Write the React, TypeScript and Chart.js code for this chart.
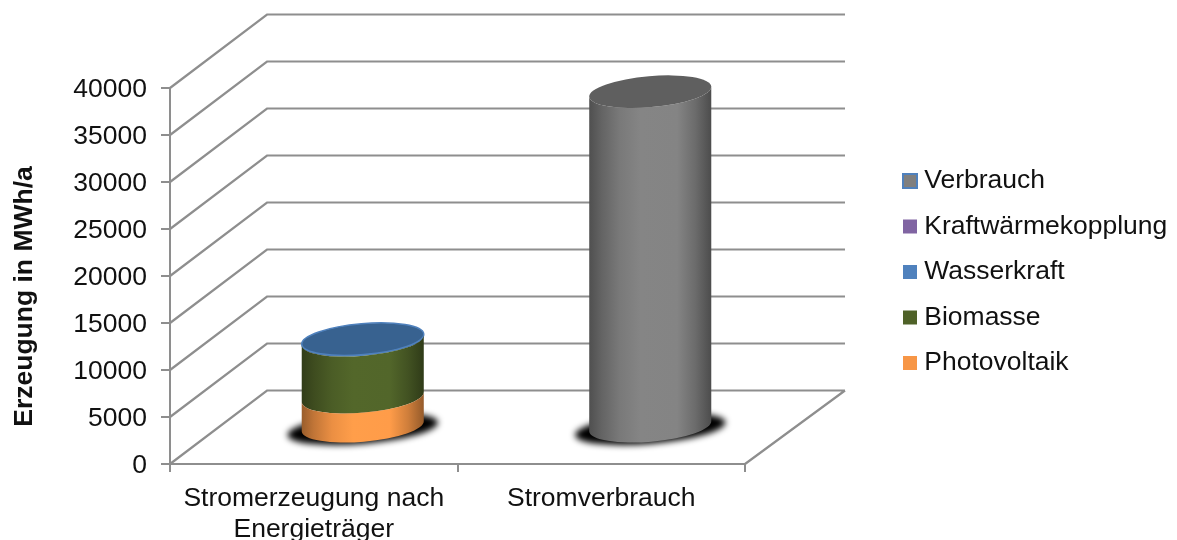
import React, { useEffect, useRef } from "react";
import { Chart, BarController, BarElement, registerables } from "chart.js";

const CATEGORIES: (string | string[])[] = [["Stromerzeugung nach", "Energieträger"], "Stromverbrauch"];
const PHOTOVOLTAIK = [3200, null];
const BIOMASSE = [6050, null];
const WASSERKRAFT = [120, null];
const KRAFTWAERME = [0, null];
const VERBRAUCH = [null, 35700];
const AXIS_TITLE = "Erzeugung in MWh/a";
const FONT_FAMILY = "'Liberation Sans', Arial, sans-serif";
const FONT_SIZE = 26.5;
const TEXT_COLOR = "#111111";
const GRID_COLOR = "#8e8e8e";

// Oblique projection of the floor: how far the back wall sits from the front plane.
const DEPTH_X = 98;
const DEPTH_Y = -73.5;
const WALL_RIGHT = 845;
const CAP_RY = 15.5;
const TILT = -0.085;

// Horizontal brightness profile that makes a flat fill read as a round surface.
const SHADE_STOPS: [number, number][] = [
  [0, 0.62],
  [0.1, 0.78],
  [0.25, 0.95],
  [0.42, 1.05],
  [0.72, 1.04],
  [0.87, 0.84],
  [1, 0.6],
];

function shade(hex: string, f: number) {
  const n = parseInt(hex.slice(1), 16);
  const c = [(n >> 16) & 255, (n >> 8) & 255, n & 255].map((v) => Math.min(255, Math.round(v * f)));
  return `rgb(${c[0]},${c[1]},${c[2]})`;
}

class CylinderElement extends BarElement {
  static id = "cylinderBar";

  draw(ctx: CanvasRenderingContext2D) {
    const self = this as any;
    const { x, y, base, width, column } = self;
    if (Math.abs(base - y) < 0.5) return;
    const { dataset, isTop } = column;
    const cx = x + DEPTH_X / 2;
    const topY = y + DEPTH_Y / 2;
    const baseY = base + DEPTH_Y / 2;
    const rx = width / 2;
    const color: string = dataset.backgroundColor;

    const gradient = ctx.createLinearGradient(cx - rx, 0, cx + rx, 0);
    SHADE_STOPS.forEach(([at, f]) => gradient.addColorStop(at, shade(color, f)));

    ctx.save();
    // Side wall: front half of the lower rim, then back along the front half of the upper rim.
    ctx.beginPath();
    ctx.ellipse(cx, baseY, rx, CAP_RY, TILT, 0, Math.PI);
    ctx.ellipse(cx, topY, rx, CAP_RY, TILT, Math.PI, 0, true);
    ctx.closePath();
    ctx.fillStyle = gradient;
    ctx.fill();

    if (isTop) {
      ctx.beginPath();
      ctx.ellipse(cx, topY, rx, CAP_RY, TILT, 0, Math.PI * 2);
      ctx.fillStyle = dataset.capColor;
      ctx.fill();
      if (dataset.capStroke) {
        ctx.strokeStyle = dataset.capStroke;
        ctx.lineWidth = 1.5;
        ctx.stroke();
      }
    }
    ctx.restore();
  }
}

class CylinderController extends BarController {
  static id = "cylinder";
  static defaults = { dataElementType: "cylinderBar" };

  draw() {
    const self = this as any;
    const dataset = self.getDataset();
    const all = self.chart.data.datasets;
    // Only the uppermost non-empty segment of a stack shows its cap.
    self._cachedMeta.data.forEach((el: any, i: number) => {
      el.column = { dataset, isTop: all.slice(self.index + 1).every((d: any) => !d.data[i]) };
    });
    super.draw();
  }
}

// Back wall, side wall and floor outlines.
const wallsPlugin = {
  id: "walls",
  beforeDatasetsDraw(chart: any) {
    const { ctx, scales } = chart;
    const y = scales.y;
    const x = scales.x;
    const left = x.left;
    ctx.save();
    ctx.strokeStyle = GRID_COLOR;
    ctx.lineWidth = 2.2;
    ctx.beginPath();
    y.ticks.forEach((t: any) => {
      const py = y.getPixelForValue(t.value);
      ctx.moveTo(left, py);
      ctx.lineTo(left + 97, py + DEPTH_Y);
      ctx.lineTo(WALL_RIGHT, py + DEPTH_Y);
    });
    const floor = y.getPixelForValue(0);
    ctx.moveTo(x.right, floor);
    ctx.lineTo(WALL_RIGHT, floor + DEPTH_Y);
    ctx.stroke();
    ctx.restore();
  },
};

// Soft contact shadow under each column on the floor.
const shadowPlugin = {
  id: "floorShadow",
  beforeDatasetsDraw(chart: any) {
    const { ctx, scales } = chart;
    const floor = scales.y.getPixelForValue(0);
    ctx.save();
    ctx.filter = "blur(3px)";
    ctx.fillStyle = "#000000";
    CATEGORIES.forEach((_, i) => {
      ctx.beginPath();
      ctx.ellipse(scales.x.getPixelForValue(i) + DEPTH_X / 2, floor + DEPTH_Y / 2 + 1.5, 75.5, 15, TILT, 0, Math.PI * 2);
      ctx.fill();
    });
    ctx.restore();
  },
};

const axisTitlePlugin = {
  id: "axisTitle",
  afterDraw(chart: any) {
    const { ctx } = chart;
    ctx.save();
    ctx.translate(25, 296.5);
    ctx.rotate(-Math.PI / 2);
    ctx.font = `bold ${FONT_SIZE}px ${FONT_FAMILY}`;
    ctx.fillStyle = TEXT_COLOR;
    ctx.textAlign = "center";
    ctx.textBaseline = "middle";
    ctx.fillText(AXIS_TITLE, 0, 0);
    ctx.restore();
  },
};

// The legend is centred on the whole canvas, not on the space below the top padding.
const legendCentrePlugin = {
  id: "legendCentre",
  afterLayout(chart: any) {
    chart.legend.top = 4;
    chart.legend.bottom = chart.height;
    chart.legend.height = chart.height - 4;
  },
};

Chart.register(...registerables, CylinderElement as any, CylinderController as any);

export default function App() {
  const ref = useRef<HTMLCanvasElement>(null);

  useEffect(() => {
    const font = { family: FONT_FAMILY, size: FONT_SIZE, lineHeight: 1.17 };
    const chart = new Chart(ref.current as HTMLCanvasElement, {
      type: "cylinder" as any,
      plugins: [legendCentrePlugin, wallsPlugin, shadowPlugin, axisTitlePlugin],
      data: {
        labels: CATEGORIES as any,
        datasets: [
          { label: "Photovoltaik", data: PHOTOVOLTAIK, backgroundColor: "#f79646", borderWidth: 0, capColor: "#f79646" },
          { label: "Biomasse", data: BIOMASSE, backgroundColor: "#4f6228", borderWidth: 0, capColor: "#3f4f20" },
          { label: "Wasserkraft", data: WASSERKRAFT, backgroundColor: "#4f81bd", borderWidth: 0, capColor: "#386290", capStroke: "#4f81bd" },
          { label: "Kraftwärmekopplung", data: KRAFTWAERME, backgroundColor: "#8064a2", borderWidth: 0, capColor: "#8064a2" },
          { label: "Verbrauch", data: VERBRAUCH, backgroundColor: "#7f7f7f", borderColor: "#4f81bd", borderWidth: 2, capColor: "#5f5f5f" },
        ] as any,
      },
      options: {
        responsive: false,
        animation: false,
        devicePixelRatio: 1,
        datasets: { cylinder: { barPercentage: 0.426, categoryPercentage: 1, clip: false } } as any,
        layout: { autoPadding: false, padding: { top: 88, left: 0, right: 0, bottom: 0 } },
        plugins: {
          tooltip: { enabled: false },
          legend: {
            position: "right",
            reverse: true,
            maxWidth: 287,
            labels: {
              font,
              color: TEXT_COLOR,
              usePointStyle: true,
              pointStyle: "rect",
              boxWidth: 2,
              boxHeight: 14,
              padding: 19,
            },
          },
        },
        scales: {
          x: {
            stacked: true,
            afterFit: (s: any) => {
              s.height = 76;
            },
            grid: { drawOnChartArea: false, tickLength: 8, color: GRID_COLOR, lineWidth: 2, offset: true },
            border: { color: GRID_COLOR, width: 2 },
            ticks: { font, color: TEXT_COLOR, padding: 11, maxRotation: 0, autoSkip: false },
          },
          y: {
            stacked: true,
            min: 0,
            max: 40000,
            afterFit: (s: any) => {
              s.width = 170;
            },
            grid: { drawOnChartArea: false, tickLength: 9, color: GRID_COLOR, lineWidth: 2 },
            border: { color: GRID_COLOR, width: 2 },
            ticks: { font, color: TEXT_COLOR, stepSize: 5000, padding: 14, labelOffset: 1.5, callback: (v: any) => String(v) },
          },
          // Empty right-hand axis: keeps the room the depth of the floor needs before the legend.
          gutter: {
            type: "linear",
            position: "right",
            afterFit: (s: any) => {
              s.width = 145;
            },
            grid: { display: false },
            border: { display: false },
            ticks: { display: false },
          },
        },
      } as any,
    });
    return () => chart.destroy();
  }, []);

  return (
    <canvas
      ref={ref}
      width={1177}
      height={540}
      style={{ position: "absolute", left: 0, top: 0, display: "block" }}
    />
  );
}
